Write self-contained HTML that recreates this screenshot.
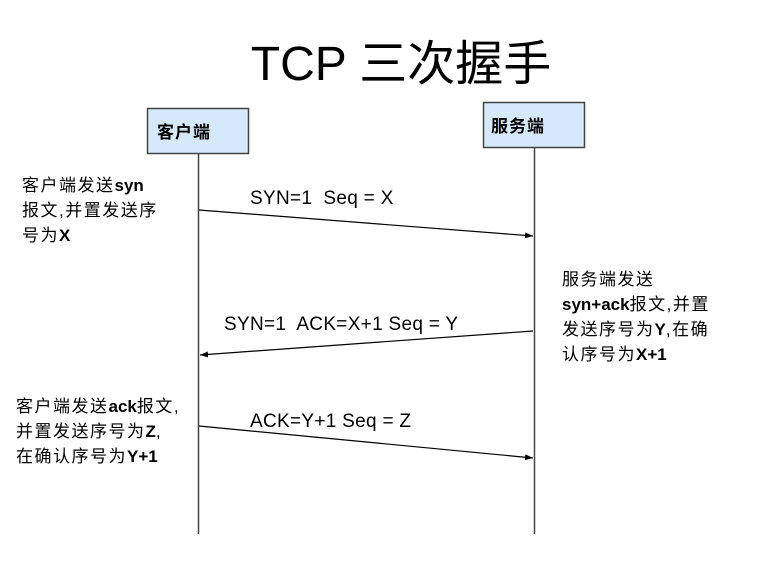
<!DOCTYPE html>
<html><head><meta charset="utf-8"><style>
body{margin:0;width:757px;height:566px;background:#fff;overflow:hidden}
svg text{font-family:"Liberation Sans","Noto Sans CJK SC",sans-serif;fill:#000;white-space:pre}
tspan.b{font-weight:bold;letter-spacing:0}
</style></head><body>
<svg width="757" height="566" xmlns="http://www.w3.org/2000/svg">
<defs><marker id="a" markerWidth="8" markerHeight="6" refX="8" refY="3" orient="auto" markerUnits="userSpaceOnUse"><path d="M0,0 L8,3 L0,6z" fill="#000"/></marker></defs>
<text x="401" y="80" font-size="48" text-anchor="middle">TCP 三次握手</text>
<rect x="147.5" y="108.5" width="101" height="45" fill="#d6e9fb" stroke="#444" stroke-width="1.5"/>
<text x="157" y="138" font-size="17" font-weight="bold" letter-spacing="1">客户端</text>
<rect x="483.5" y="102.5" width="101" height="45" fill="#d6e9fb" stroke="#444" stroke-width="1.5"/>
<text x="491" y="132" font-size="17" font-weight="bold" letter-spacing="1">服务端</text>
<line x1="198.5" y1="154" x2="198.5" y2="534" stroke="#444" stroke-width="1.5"/>
<line x1="534.5" y1="148" x2="534.5" y2="534" stroke="#444" stroke-width="1.5"/>
<line x1="199" y1="210" x2="533" y2="236" stroke="#000" stroke-width="1.2" marker-end="url(#a)"/>
<line x1="533" y1="331" x2="200" y2="355" stroke="#000" stroke-width="1.2" marker-end="url(#a)"/>
<line x1="199" y1="426" x2="533" y2="458" stroke="#000" stroke-width="1.2" marker-end="url(#a)"/>
<g font-size="19" letter-spacing="0.3">
<text x="250" y="204" xml:space="preserve">SYN=1  Seq = X</text>
<text x="224" y="330" xml:space="preserve">SYN=1  ACK=X+1 Seq = Y</text>
<text x="250" y="427" xml:space="preserve">ACK=Y+1 Seq = Z</text>
</g>
<g font-size="17" letter-spacing="1.5">
<text x="22" y="191">客户端发送<tspan class="b">syn</tspan></text>
<text x="22" y="216">报文,并置发送序</text>
<text x="22" y="241">号为<tspan class="b">X</tspan></text>
<text x="562" y="285">服务端发送</text>
<text x="562" y="310"><tspan class="b">syn+ack</tspan><tspan>报文,并置</tspan></text>
<text x="562" y="335">发送序号为<tspan class="b">Y</tspan><tspan>,在确</tspan></text>
<text x="562" y="360">认序号为<tspan class="b">X+1</tspan></text>
<text x="16" y="412">客户端发送<tspan class="b">ack</tspan><tspan>报文,</tspan></text>
<text x="16" y="437">并置发送序号为<tspan class="b">Z</tspan><tspan>,</tspan></text>
<text x="16" y="462">在确认序号为<tspan class="b">Y+1</tspan></text>
</g>
</svg>
</body></html>
